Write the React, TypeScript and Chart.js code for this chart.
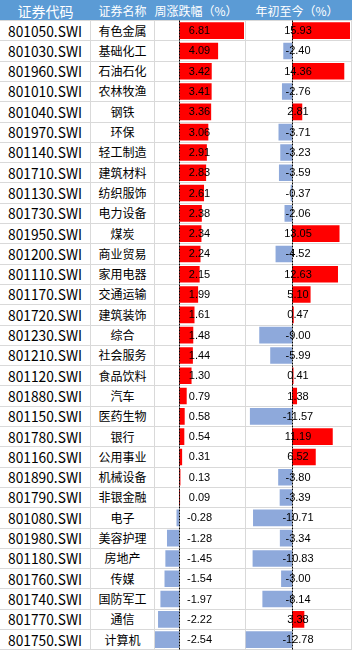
import React, { useEffect, useRef } from "react";
import { Chart, registerables } from "chart.js";

Chart.register(...registerables);

const codes = [
  "801050.SWI", "801030.SWI", "801960.SWI", "801010.SWI", "801040.SWI",
  "801970.SWI", "801140.SWI", "801710.SWI", "801130.SWI", "801730.SWI",
  "801950.SWI", "801200.SWI", "801110.SWI", "801170.SWI", "801720.SWI",
  "801230.SWI", "801210.SWI", "801120.SWI", "801880.SWI", "801150.SWI",
  "801780.SWI", "801160.SWI", "801890.SWI", "801790.SWI", "801080.SWI",
  "801980.SWI", "801180.SWI", "801760.SWI", "801740.SWI", "801770.SWI",
  "801750.SWI",
];

const names = [
  "有色金属", "基础化工", "石油石化", "农林牧渔", "钢铁",
  "环保", "轻工制造", "建筑材料", "纺织服饰", "电力设备",
  "煤炭", "商业贸易", "家用电器", "交通运输", "建筑装饰",
  "综合", "社会服务", "食品饮料", "汽车", "医药生物",
  "银行", "公用事业", "机械设备", "非银金融", "电子",
  "美容护理", "房地产", "传媒", "国防军工", "通信",
  "计算机",
];

const weeklyChange = [
  6.81, 4.09, 3.42, 3.41, 3.36,
  3.06, 2.91, 2.83, 2.61, 2.38,
  2.34, 2.24, 2.15, 1.99, 1.61,
  1.48, 1.44, 1.30, 0.79, 0.58,
  0.54, 0.31, 0.13, 0.09, -0.28,
  -1.28, -1.45, -1.54, -1.97, -2.22,
  -2.54,
];

const ytdChange = [
  15.93, -2.40, 14.36, -2.76, 2.81,
  -3.71, -3.23, -3.59, -0.37, -2.06,
  13.05, -4.52, 12.63, 5.10, 0.47,
  -9.00, -5.99, 0.41, 1.38, -11.57,
  11.19, 6.52, -3.80, -3.39, -10.71,
  -3.34, -10.83, -3.00, -8.14, 3.38,
  -12.78,
];

const headerLabels = ["证券代码", "证券名称", "周涨跌幅（%）", "年初至今（%）"];

const PAGE_W = 354;
const PAGE_H = 651;
const HEADER_H = 20;
const AREA_TOP = 20.5;
const ROW_H = 20.3;
const GRID = "#D9D9D9";
const POS = "#FF0000";
const NEG = "#8EA9DB";
const CJK = '"Noto Sans CJK SC", "Noto Sans", sans-serif';

let codeScale = 1;
function computeCodeScale() {
  try {
    const c = document.createElement("canvas").getContext("2d");
    if (c) {
      c.font = `15px ${CJK}`;
      const w = c.measureText("801050.SWI").width;
      if (w > 0) codeScale = 74 / w;
    }
  } catch (e) {}
}
computeCodeScale();

const cellPlugin = {
  id: "cellLabels",
  afterDatasetsDraw(chart: any) {
    const ctx = chart.ctx;
    const vals = chart.data.datasets[0].data as number[];
    const ys = chart.scales.y;
    const xs = chart.scales.x;
    const cx = chart.width / 2;
    ctx.save();
    ctx.font = '11px "Liberation Sans", Arial, sans-serif';
    ctx.textAlign = "center";
    ctx.textBaseline = "middle";
    ctx.fillStyle = "#000";
    vals.forEach((v, i) => {
      ctx.fillText(v.toFixed(2), cx, ys.getPixelForValue(i) + 0.5);
    });
    const x0 = Math.round(xs.getPixelForValue(0)) + 0.5;
    ctx.strokeStyle = "#000";
    ctx.lineWidth = 1;
    ctx.setLineDash([2, 1]);
    ctx.beginPath();
    ctx.moveTo(x0, chart.chartArea.top);
    ctx.lineTo(x0, chart.chartArea.bottom);
    ctx.stroke();
    ctx.restore();
  },
};

function DataBarColumn(props: {
  values: number[];
  left: number;
  width: number;
  padLeft: number;
  padRight: number;
}) {
  const { values, left, width, padLeft, padRight } = props;
  const ref = useRef<HTMLCanvasElement>(null);
  useEffect(() => {
    const chart = new Chart(ref.current as HTMLCanvasElement, {
      type: "bar",
      data: {
        labels: codes,
        datasets: [
          {
            data: values,
            backgroundColor: values.map((v) => (v >= 0 ? POS : NEG)),
            borderWidth: 0,
            barPercentage: 0.82,
            categoryPercentage: 1,
          },
        ],
      },
      options: {
        indexAxis: "y",
        animation: false,
        responsive: false,
        maintainAspectRatio: false,
        events: [],
        layout: {
          padding: {
            left: padLeft,
            right: padRight,
            top: AREA_TOP,
            bottom: PAGE_H - (AREA_TOP + ROW_H * codes.length),
          },
        },
        scales: {
          x: {
            display: false,
            min: Math.min(...values),
            max: Math.max(...values),
          },
          y: { display: false },
        },
        plugins: {
          legend: { display: false },
          tooltip: { enabled: false },
        },
      },
      plugins: [cellPlugin],
    } as any);
    return () => chart.destroy();
  }, [values, padLeft, padRight]);
  return (
    <canvas
      ref={ref}
      width={width}
      height={PAGE_H}
      style={{
        position: "absolute",
        left,
        top: 0,
        width,
        height: PAGE_H,
        display: "block",
      }}
    />
  );
}

export default function App() {
  useEffect(() => {
    document.body.style.margin = "0";
  }, []);

  const rowTop = (i: number) => AREA_TOP + i * ROW_H;
  const hLines: number[] = [];
  for (let i = 0; i <= codes.length; i++) hLines.push(Math.round(HEADER_H + i * ROW_H));
  const vLines = [90, 154, 245, 351];
  const headerCenters = [45.5, 122.5, 196, 297];
  const headerSizes = [14, 12, 12, 12];

  return (
    <div
      style={{
        position: "relative",
        width: PAGE_W,
        height: PAGE_H,
        background: "#fff",
        overflow: "hidden",
        fontFamily: CJK,
      }}
    >
      <div
        style={{
          position: "absolute",
          left: 0,
          top: 0,
          width: 352,
          height: HEADER_H,
          background: "#5B9BD5",
        }}
      />
      {headerLabels.map((t, i) => (
        <div
          key={"h" + i}
          style={{
            position: "absolute",
            left: headerCenters[i] - 60,
            width: 120,
            top: 0,
            height: HEADER_H + 2,
            lineHeight: HEADER_H + 2 + "px",
            textAlign: "center",
            color: "#fff",
            fontSize: headerSizes[i],
            whiteSpace: "nowrap",
          }}
        >
          {t}
        </div>
      ))}
      {hLines.map((y, i) => (
        <div
          key={"hl" + i}
          style={{
            position: "absolute",
            left: 0,
            top: y,
            width: 352,
            height: 1,
            background: GRID,
          }}
        />
      ))}
      {vLines.map((x, i) => (
        <div
          key={"vl" + i}
          style={{
            position: "absolute",
            left: x,
            top: HEADER_H,
            width: 1,
            height: hLines[hLines.length - 1] - HEADER_H + 1,
            background: GRID,
          }}
        />
      ))}
      {codes.map((c, i) => (
        <div
          key={"c" + i}
          style={{
            position: "absolute",
            left: 8,
            top: rowTop(i),
            height: ROW_H,
            lineHeight: ROW_H + "px",
            fontSize: 15,
            color: "#000",
            whiteSpace: "nowrap",
            transform: `scaleX(${codeScale})`,
            transformOrigin: "left center",
          }}
        >
          {c}
        </div>
      ))}
      {names.map((n, i) => (
        <div
          key={"n" + i}
          style={{
            position: "absolute",
            left: 91,
            width: 63,
            top: rowTop(i),
            height: ROW_H,
            lineHeight: ROW_H + "px",
            fontSize: 12,
            textAlign: "center",
            color: "#000",
            whiteSpace: "nowrap",
          }}
        >
          {n}
        </div>
      ))}
      <DataBarColumn values={weeklyChange} left={154} width={91} padLeft={1} padRight={1} />
      <DataBarColumn values={ytdChange} left={245} width={106} padLeft={0.5} padRight={1} />
    </div>
  );
}
